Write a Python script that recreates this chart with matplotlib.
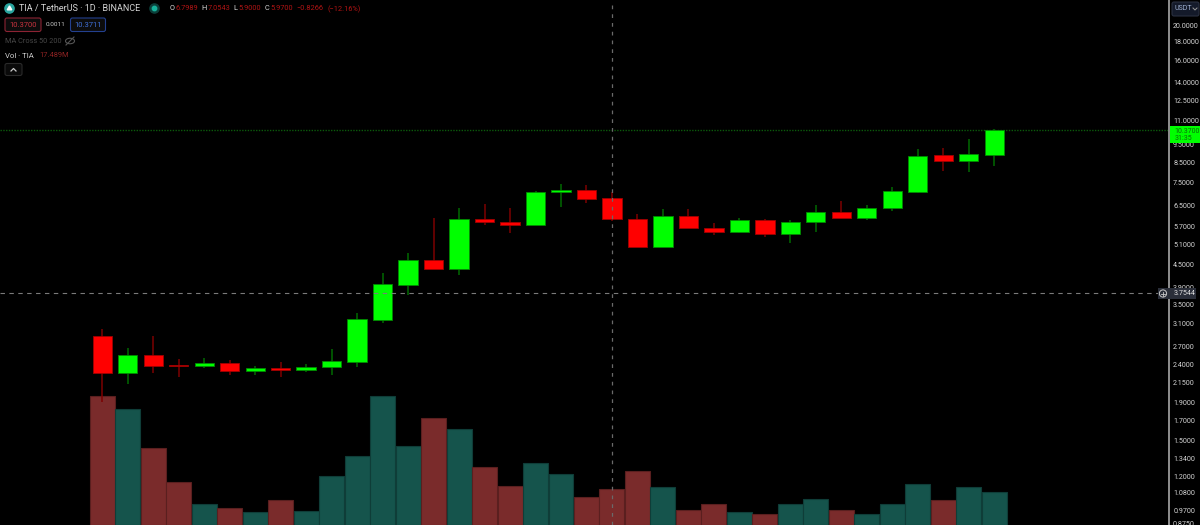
import matplotlib
matplotlib.use('Agg')
import matplotlib.pyplot as plt
from matplotlib.patches import Rectangle, FancyBboxPatch, Circle, Ellipse, RegularPolygon
import numpy as np

plt.rcParams['font.family'] = ['Roboto', 'DejaVu Sans']

opens = [2.88, 2.28, 2.55, 2.40, 2.38, 2.43, 2.31, 2.36, 2.33, 2.37, 2.45, 3.18,
         3.96, 4.61, 4.36, 5.97, 5.85, 5.74, 7.05, 7.13, 6.7989, 5.95, 5.01, 6.09,
         5.64, 5.51, 5.94, 5.43, 5.86, 6.22, 5.99, 6.37, 7.07, 8.87, 8.56, 8.91]
highs = [3.00, 2.67, 2.87, 2.49, 2.50, 2.47, 2.39, 2.45, 2.41, 2.65, 3.31, 4.25,
         4.83, 5.99, 6.37, 6.54, 6.37, 7.09, 7.40, 7.37, 7.0543, 6.14, 6.33, 6.35,
         5.83, 5.99, 5.96, 5.93, 6.49, 6.67, 6.49, 7.27, 9.21, 9.30, 9.82, 10.45]
lows = [1.91, 2.13, 2.28, 2.22, 2.35, 2.25, 2.26, 2.23, 2.30, 2.26, 2.37, 3.12,
        3.71, 4.36, 4.21, 5.74, 5.45, 5.74, 6.41, 6.60, 5.90, 5.01, 5.01, 5.63,
        5.41, 5.46, 5.34, 5.13, 5.51, 5.99, 5.93, 6.28, 7.03, 8.04, 8.01, 8.31]
closes = [2.28, 2.55, 2.39, 2.39, 2.43, 2.31, 2.36, 2.33, 2.37, 2.46, 3.19, 3.97,
          4.61, 4.36, 5.97, 5.84, 5.74, 7.06, 7.13, 6.77, 5.97, 5.01, 6.09, 5.63,
          5.51, 5.94, 5.43, 5.86, 6.22, 5.99, 6.37, 7.09, 8.83, 8.56, 8.93, 10.37]
volumes = [62.8, 56.4, 37.4, 20.7, 10.2, 8.3, 6.5, 12.0, 6.8, 23.7, 33.7, 62.5,
           38.5, 52.0, 46.8, 28.3, 18.8, 30.0, 24.9, 13.7, 17.489, 26.2, 18.5, 7.4,
           10.1, 6.2, 5.3, 10.1, 12.6, 7.1, 5.3, 10.1, 19.8, 12.0, 18.3, 16.0]

price_ticks = [20, 18, 16, 14, 12.5, 11, 9.5, 8.5, 7.5, 6.5, 5.7, 5.1, 4.5, 3.9, 3.5,
               3.1, 2.7, 2.4, 2.15, 1.9, 1.7, 1.5, 1.34, 1.2, 1.08, 0.97]

last_price = 10.37
cross_price = 3.7544
cross_bar = 20

x = np.arange(len(opens))
up = np.array(closes) >= np.array(opens)
body_low = np.minimum(opens, closes)
body_high = np.maximum(opens, closes)

fig = plt.figure(figsize=(12, 5.25), dpi=100, facecolor='black')

# volume pane sits under the candles, same x range
ax_vol = fig.add_axes([0, 0, 1169 / 1200, 1], facecolor='black')
ax = fig.add_axes([0, 0, 1169 / 1200, 1], facecolor='none')

xlim = (-4.015, 41.86)
ax_vol.set_xlim(xlim)
ax_vol.set_ylim(0, 255)
ax_vol.axis('off')

vol_colors = ['#15544c' if u else '#7a2b2b' for u in up]
vol_edges = ['#0f3d38' if u else '#5a1f1f' for u in up]
ax_vol.bar(x, volumes, width=0.98, color=vol_colors, edgecolor=vol_edges, linewidth=0.8)

ax.set_xlim(xlim)
ax.set_yscale('log')
ax.set_ylim(0.8843, 23.38)

wick_colors = ['#006a00' if u else '#7c0000' for u in up]
ax.vlines(x, lows, highs, colors=wick_colors, linewidth=1.1, zorder=2)
body_colors = ['#00ff00' if u else '#ff0000' for u in up]
body_edges = ['#008a00' if u else '#a00000' for u in up]
ax.bar(x, body_high - body_low, bottom=body_low, width=0.76, color=body_colors,
       edgecolor=body_edges, linewidth=0.6, zorder=3)

ax.axhline(last_price, color='#0b5a0b', linestyle=(0, (1, 1)), linewidth=1, zorder=1)
ax.axhline(cross_price, color='#7a7a7a', linestyle=(0, (4, 4)), linewidth=0.8, zorder=4)
ax.axvline(cross_bar, color='#6a6a6a', linestyle=(0, (3, 4)), linewidth=0.9, zorder=4)

ax.yaxis.tick_right()
ax.minorticks_off()
ax.set_yticks(price_ticks)
ax.set_yticklabels(['%.4f' % t for t in price_ticks], fontsize=5.1, color='#d4d4d4')
ax.tick_params(axis='y', length=0, pad=3)
ax.set_xticks([])
for name in ['top', 'left', 'bottom']:
    ax.spines[name].set_visible(False)
ax.spines['right'].set_color('#8f8f8f')
ax.spines['right'].set_linewidth(1.4)

# overlay in pixel coordinates for the TradingView furniture
top = fig.add_axes([0, 0, 1, 1], facecolor='none')
top.set_xlim(0, 1200)
top.set_ylim(525, 0)
top.axis('off')


def label(px, py, s, color='#d8d8d8', size=5.1, **kw):
    top.text(px, py, s, color=color, fontsize=size, va='center', ha=kw.pop('ha', 'left'), **kw)


def box(px, py, w, h, edge, face='black', lw=0.8):
    top.add_patch(FancyBboxPatch((px, py), w, h, boxstyle='round,pad=0,rounding_size=2',
                                 edgecolor=edge, facecolor=face, linewidth=lw))


# header
top.add_patch(Circle((9.5, 8.5), 4.6, color='#2aa6a0'))
top.add_patch(RegularPolygon((9.5, 8.5), 3, radius=2.6, orientation=np.pi, color='white'))
label(19, 8.5, 'TIA / TetherUS · 1D · BINANCE', color='#d6d6d6', size=6.5)
top.add_patch(Circle((154.5, 8.5), 4.6, color='#0c3f3a'))
top.add_patch(Circle((154.5, 8.5), 2.2, color='#16b09a'))

for px, s in [(169.5, 'O'), (201.5, 'H'), (233.5, 'L'), (264.5, 'C')]:
    label(px, 9, s, color='#d8d8d8', size=5.3)
for px, s in [(175, '6.7989'), (207.5, '7.0543'), (238.5, '5.9000'), (270, '5.9700'),
              (296, '−0.8266'), (327, '(−12.16%)')]:
    label(px, 9, s, color='#b01414', size=5.3)

box(5, 18, 36, 13.5, '#8c2333', face='#0c0c0c')
label(23, 25, '10.3700', color='#c8333f', size=5.5, ha='center')
label(45.5, 25, '0.0011', color='#c8c8c8', size=4.6)
box(70.5, 18, 35, 13.5, '#23408f', face='#0c0c0c')
label(88, 25, '10.3711', color='#3f6fd8', size=5.5, ha='center')

label(5, 41.5, 'MA Cross 50 200', color='#474747', size=5.3)
top.add_patch(Ellipse((70, 41), 9, 5.5, fill=False, edgecolor='#555555', linewidth=0.8))
top.plot([66, 74], [45, 37], color='#555555', linewidth=0.8)

label(5, 55.5, 'Vol · TIA', color='#d0d0d0', size=5.6)
label(39, 55.5, '17.489M', color='#8f2323', size=5.4)

box(5, 63.5, 17, 12, '#2a2a2a', face='#0a0a0a')
top.plot([11, 13.5, 16], [71, 68.5, 71], color='#c8c8c8', linewidth=0.9)

# price scale overlays
box(1172, 2, 27, 14, '#2a3040', face='#141a2a')
label(1174.5, 9, 'USDT', color='#9fb0d0', size=5)
top.plot([1193, 1195, 1197], [8, 10, 8], color='#9a9a9a', linewidth=0.7)

label(1173, 524, '0.8750', color='#d4d4d4', size=5.1, clip_on=True)

top.add_patch(Rectangle((1170, 126), 29.5, 17, facecolor='#00ff00', edgecolor='none'))
label(1174.5, 131.2, '10.3700', color='#0b6a0b', size=5)
label(1174.5, 139, '31:35', color='#0b6a0b', size=5)

top.add_patch(Rectangle((1157.5, 288), 38.5, 11, facecolor='#2a2e39', edgecolor='none'))
top.add_patch(Circle((1163, 293.5), 3.6, fill=False, edgecolor='#c8c8c8', linewidth=0.7))
top.plot([1161, 1165], [293.5, 293.5], color='#c8c8c8', linewidth=0.6)
top.plot([1163, 1163], [291.5, 295.5], color='#c8c8c8', linewidth=0.6)
label(1174, 293.7, '3.7544', color='#e0e0e0', size=5.1)

fig.savefig('out.png', dpi=100, facecolor='black')
